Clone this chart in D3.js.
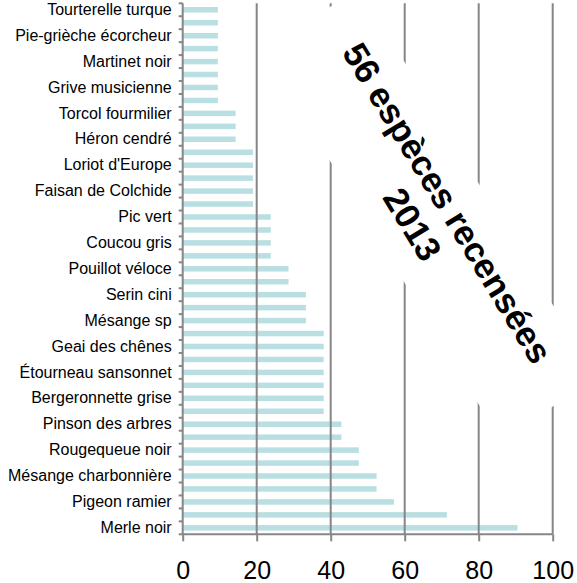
<!DOCTYPE html>
<html>
<head>
<meta charset="utf-8">
<script src="https://cdn.jsdelivr.net/npm/d3@7"></script>
<style>
  html, body { margin: 0; padding: 0; background: #fff; }
  svg { display: block; font-family: "Liberation Sans", Arial, sans-serif; }
</style>
</head>
<body>
<svg id="chart" width="577" height="583"></svg>
<script>
// Categories listed top to bottom (only every other one is labelled in the chart)
const categories = [
  "Tourterelle turque", "Bouvreuil pivoine", "Pie-grièche écorcheur", "Rossignol philomèle",
  "Martinet noir", "Choucas des tours", "Grive musicienne", "Mésange à longue queue",
  "Torcol fourmilier", "Faucon crécerelle", "Héron cendré", "Hypolaïs polyglotte",
  "Loriot d'Europe", "Grimpereau des jardins", "Faisan de Colchide", "Pic épeiche",
  "Pic vert", "Buse variable", "Coucou gris", "Accenteur mouchet",
  "Pouillot véloce", "Troglodyte mignon", "Serin cini", "Chardonneret élégant",
  "Mésange sp", "Verdier d'Europe", "Geai des chênes", "Hirondelle rustique",
  "Étourneau sansonnet", "Moineau domestique", "Bergeronnette grise", "Pie bavarde",
  "Pinson des arbres", "Corneille noire", "Rougequeue noir", "Fauvette à tête noire",
  "Mésange charbonnière", "Mésange bleue", "Pigeon ramier", "Rougegorge familier",
  "Merle noir"
];
const values = [
  9.5, 9.5, 9.5, 9.5,
  9.5, 9.5, 9.5, 9.5,
  14.3, 14.3, 14.3, 19.0,
  19.0, 19.0, 19.0, 19.0,
  23.8, 23.8, 23.8, 23.8,
  28.6, 28.6, 33.3, 33.3,
  33.3, 38.1, 38.1, 38.1,
  38.1, 38.1, 38.1, 38.1,
  42.9, 42.9, 47.6, 47.6,
  52.4, 52.4, 57.1, 71.4,
  90.5
];
const xTicks = [0, 20, 40, 60, 80, 100];
const titleLines = ["56 espèces recensées", "2013"];

const data = categories.map((c, i) => ({ name: c, value: values[i] }));

const FONT = "'Liberation Sans', Arial, sans-serif";
const svg = d3.select("#chart");
const pLeft = 182.7, pRight = 552.7, pTop = 3.3, pBottom = 534.3;

const x = d3.scaleLinear().domain([0, 100]).range([pLeft, pRight]);
const pad = 0.575;
const y = d3.scaleBand().domain(categories).range([pTop, pBottom])
  .paddingInner(pad).paddingOuter(pad / 2);

const axisColor = "#868686";
const barColor = "#b9dfe2";

// bars
svg.append("g").selectAll("rect").data(data).join("rect")
  .attr("x", x(0))
  .attr("y", d => y(d.name))
  .attr("width", d => x(d.value) - x(0))
  .attr("height", y.bandwidth())
  .attr("fill", barColor);

// vertical gridlines
svg.append("g").selectAll("line").data(xTicks.filter(t => t > 0)).join("line")
  .attr("x1", d => x(d)).attr("x2", d => x(d))
  .attr("y1", pTop).attr("y2", pBottom)
  .attr("stroke", axisColor).attr("stroke-width", 2);

// x axis
const xAxis = svg.append("g").attr("transform", `translate(0,${pBottom})`)
  .call(d3.axisBottom(x).tickValues(xTicks).tickSize(7).tickPadding(0).tickFormat(d3.format("d")));
xAxis.select(".domain").attr("stroke", axisColor).attr("stroke-width", 2)
  .attr("d", `M${pLeft},0H${pRight}`);
xAxis.selectAll(".tick line").attr("stroke", axisColor).attr("stroke-width", 2);
xAxis.selectAll(".tick text")
  .attr("y", 45).attr("dy", null)
  .attr("font-size", 25).attr("fill", "#000")
  .attr("font-family", FONT);

// y axis line and boundary ticks
const step = y.step();
const bounds = d3.range(categories.length + 1).map(i => pTop + i * step);
svg.append("line")
  .attr("x1", pLeft).attr("x2", pLeft).attr("y1", pTop).attr("y2", pBottom)
  .attr("stroke", axisColor).attr("stroke-width", 2);
svg.append("g").selectAll("line").data(bounds).join("line")
  .attr("x1", pLeft - 4).attr("x2", pLeft)
  .attr("y1", d => d).attr("y2", d => d)
  .attr("stroke", axisColor).attr("stroke-width", 2);

// y labels (every other category)
const yAxis = svg.append("g").attr("transform", `translate(${pLeft},0)`)
  .call(d3.axisLeft(y).tickSize(0).tickPadding(11)
    .tickFormat((d, i) => (i % 2 === 0 ? d : "")));
yAxis.select(".domain").remove();
yAxis.selectAll(".tick text")
  .attr("font-size", 16).attr("fill", "#000")
  .attr("font-family", FONT);

// rotated annotation box
const cx = 429.8, cy = 213.8, angle = 58.6;
const note = svg.append("g").attr("transform", `translate(${cx},${cy}) rotate(${angle})`);
note.append("rect")
  .attr("x", -228.5).attr("y", -57.5).attr("width", 457).attr("height", 115)
  .attr("fill", "#fff");
note.selectAll("text").data(titleLines).join("text")
  .attr("x", 0)
  .attr("y", (d, i) => (i === 0 ? -21 : 20))
  .attr("dominant-baseline", "central")
  .attr("text-anchor", "middle")
  .attr("font-size", 35)
  .attr("font-weight", "bold")
  .attr("font-family", FONT)
  .attr("fill", "#000")
  .text(d => d);
</script>
</body>
</html>
